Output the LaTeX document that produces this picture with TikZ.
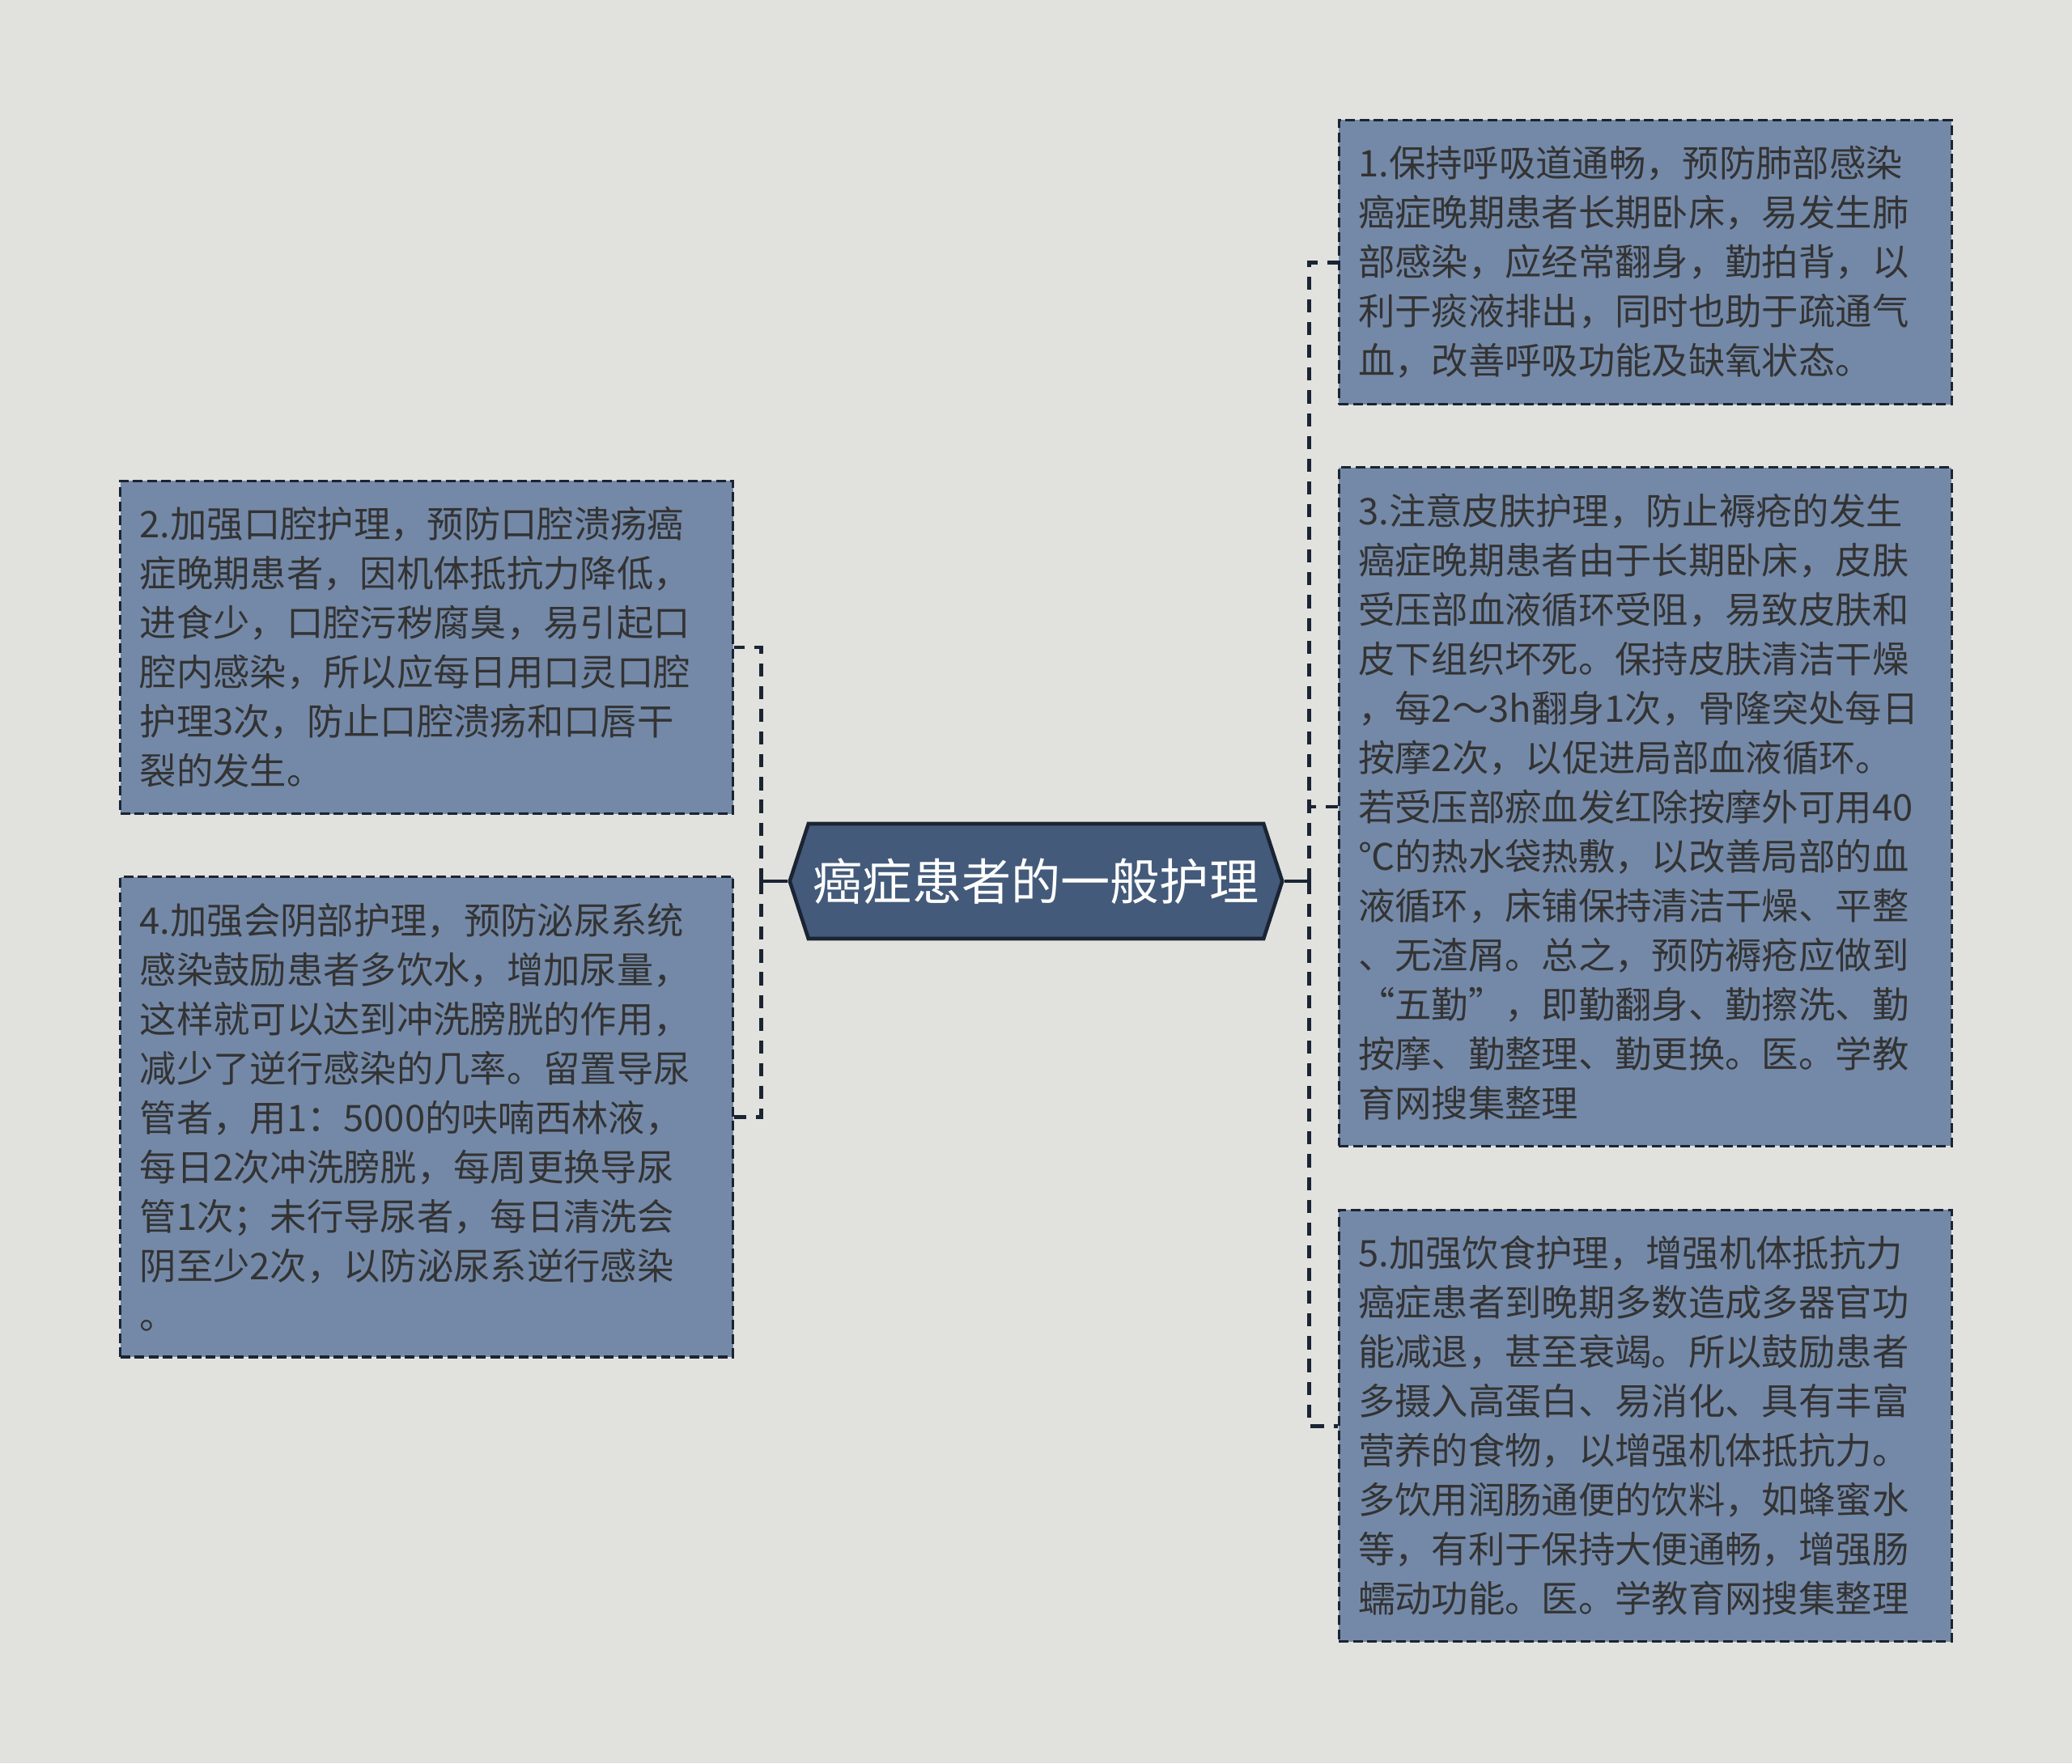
\documentclass[tikz,border=0pt]{standalone}
\usepackage{fontspec}
\setmainfont{Noto Sans CJK SC}
\usetikzlibrary{positioning,shapes.symbols}

\definecolor{bgcol}{HTML}{E1E2DD}
\definecolor{notefill}{HTML}{7489A8}
\definecolor{topicfill}{HTML}{435A7A}
\definecolor{edgecol}{HTML}{1B2433}
\definecolor{txtcol}{HTML}{333333}

\tikzset{
  topic/.style={signal, signal to=west and east, signal pointer angle=144,
    fill=topicfill, draw=edgecol, line width=1.3pt, text=white, inner xsep=0.06cm,
    font=\fontsize{17.4}{20}\selectfont, minimum height=1.42cm},
  note/.style={rectangle, fill=notefill, draw=edgecol, line width=0.9pt,
    dash pattern=on 3.4pt off 1.6pt, text=txtcol, align=left, text width=7.09cm,
    inner xsep=0.24cm, inner ysep=0.32cm, font=\fontsize{12.9}{17.36}\selectfont},
  stub/.style={draw=edgecol, line width=1.4pt},
  link/.style={draw=edgecol, line width=1.4pt, dash pattern=on 4.6pt off 3.4pt},
}

\begin{document}
\begin{tikzpicture}

    % canvas
    \fill[bgcol] (0,0) rectangle (25.6,-21.79);
    \useasboundingbox (0,0) rectangle (25.6,-21.79);

    % central topic
    \node[topic] (root) at (12.80,-10.89) {癌症患者的一般护理};

    % right-hand notes
    \node[note, right=0.66cm of root, yshift=0.92cm] (n3) {3.注意皮肤护理，防止褥疮的发生\\癌症晚期患者由于长期卧床，皮肤\\受压部血液循环受阻，易致皮肤和\\皮下组织坏死。保持皮肤清洁干燥\\，每2～3h翻身1次，骨隆突处每日\\按摩2次，以促进局部血液循环。\\若受压部瘀血发红除按摩外可用40\\℃的热水袋热敷，以改善局部的血\\液循环，床铺保持清洁干燥、平整\\、无渣屑。总之，预防褥疮应做到\\“五勤”，即勤翻身、勤擦洗、勤\\按摩、勤整理、勤更换。医。学教\\育网搜集整理};
    \node[note, above=0.75cm of n3] (n1) {1.保持呼吸道通畅，预防肺部感染\\癌症晚期患者长期卧床，易发生肺\\部感染，应经常翻身，勤拍背，以\\利于痰液排出，同时也助于疏通气\\血，改善呼吸功能及缺氧状态。};
    \node[note, below=0.76cm of n3] (n5) {5.加强饮食护理，增强机体抵抗力\\癌症患者到晚期多数造成多器官功\\能减退，甚至衰竭。所以鼓励患者\\多摄入高蛋白、易消化、具有丰富\\营养的食物，以增强机体抵抗力。\\多饮用润肠通便的饮料，如蜂蜜水\\等，有利于保持大便通畅，增强肠\\蠕动功能。医。学教育网搜集整理};

    % left-hand notes
    \node[note, left=0.66cm of root, yshift=2.89cm] (n2) {2.加强口腔护理，预防口腔溃疡癌\\症晚期患者，因机体抵抗力降低，\\进食少，口腔污秽腐臭，易引起口\\腔内感染，所以应每日用口灵口腔\\护理3次，防止口腔溃疡和口唇干\\裂的发生。};
    \node[note, below=0.75cm of n2] (n4) {4.加强会阴部护理，预防泌尿系统\\感染鼓励患者多饮水，增加尿量，\\这样就可以达到冲洗膀胱的作用，\\减少了逆行感染的几率。留置导尿\\管者，用1：5000的呋喃西林液，\\每日2次冲洗膀胱，每周更换导尿\\管1次；未行导尿者，每日清洗会\\阴至少2次，以防泌尿系逆行感染\\。};

    % the connections
    \draw[stub] (root.east) -- ++(0.31,0) coordinate (rt);
    \draw[stub] (root.west) -- ++(-0.33,0) coordinate (lt);
    \draw[link] (rt) |- (n1.west);
    \draw[link] (rt) |- (n3.west);
    \draw[link] (rt) |- (n5.west);
    \draw[link] (lt) |- (n2.east);
    \draw[link] (lt) |- (n4.east);

\end{tikzpicture}
\end{document}
